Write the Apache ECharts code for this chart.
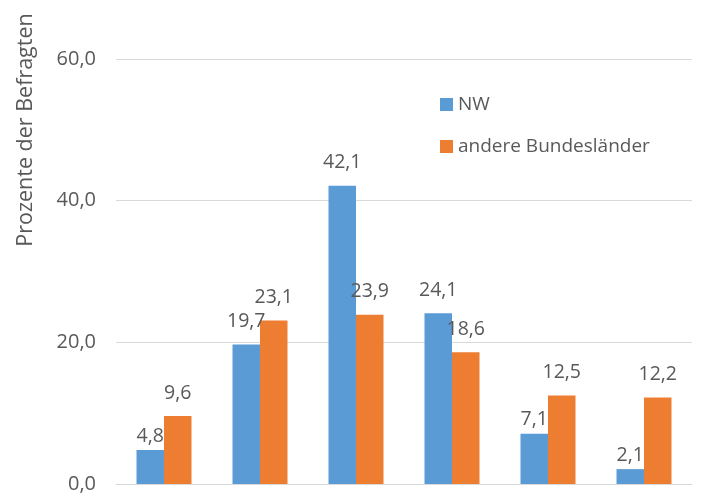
<!DOCTYPE html>
<html>
<head>
<meta charset="utf-8">
<script src="https://cdn.jsdelivr.net/npm/echarts@6/dist/echarts.min.js"></script>
<style>
html,body{margin:0;padding:0;background:#fff;}
#c{width:703px;height:494px;}
</style>
</head>
<body>
<div id="c"></div>
<script>
var categories = ['1', '2', '3', '4', '5', '6'];
var seriesNames = ['NW', 'andere Bundesländer'];
var nwValues = [4.8, 19.7, 42.1, 24.1, 7.1, 2.1];
var otherValues = [9.6, 23.1, 23.9, 18.6, 12.5, 12.2];
var yTicks = [0, 20, 40, 60];
var yAxisTitle = 'Prozente der Befragten';

var FONT = '"Open Sans", sans-serif';
var TXT = '#595959';
function fmt(v){ return Number(v).toFixed(1).replace('.', ','); }

// labels of low blue bars sit closer to their bar in the reference
var closeLabelIdx = [0, 4, 5];
function buildData(values, closeIdx){
  return values.map(function(v, i){
    var d = { value: v };
    if (closeIdx.indexOf(i) >= 0) d.label = { distance: 4 };
    return d;
  });
}

var chart = echarts.init(document.getElementById('c'));
var labelCfg = {
  show: true, position: 'top', distance: 13,
  color: TXT, fontFamily: FONT, fontSize: 19.5,
  formatter: function(p){ return fmt(p.value); }
};
chart.setOption({
  animation: false,
  backgroundColor: '#fff',
  grid: { left: 116, right: 11, top: 59, bottom: 10, containLabel: false },
  legend: {
    orient: 'vertical', left: 435, top: 88.5,
    itemWidth: 13, itemHeight: 13, itemGap: 20,
    icon: 'rect',
    textStyle: { color: TXT, fontFamily: FONT, fontSize: 19, lineHeight: 22 },
    data: seriesNames
  },
  graphic: [{
    type: 'text', x: 26, y: 130, rotation: Math.PI / 2,
    style: { text: yAxisTitle, fill: TXT, font: '21.5px "Open Sans", sans-serif',
             textAlign: 'center', textVerticalAlign: 'middle' }
  }],
  xAxis: {
    type: 'category', data: categories,
    axisLine: { show: true, lineStyle: { color: '#D9D9D9', width: 1 } },
    axisTick: { show: false },
    axisLabel: { show: false }
  },
  yAxis: {
    type: 'value', min: yTicks[0], max: yTicks[yTicks.length - 1], interval: 20,
    axisLine: { show: false }, axisTick: { show: false },
    splitLine: { lineStyle: { color: '#D9D9D9', width: 1 } },
    axisLabel: { color: TXT, fontFamily: FONT, fontSize: 20, margin: 20, formatter: fmt }
  },
  series: [
    { name: seriesNames[0], type: 'bar', data: buildData(nwValues, closeLabelIdx), barWidth: 27.5, barGap: '0%',
      itemStyle: { color: '#5B9BD5' }, label: labelCfg },
    { name: seriesNames[1], type: 'bar', data: buildData(otherValues, []), barWidth: 27.5, barGap: '0%',
      itemStyle: { color: '#ED7D31' }, label: labelCfg }
  ]
});
</script>
</body>
</html>
